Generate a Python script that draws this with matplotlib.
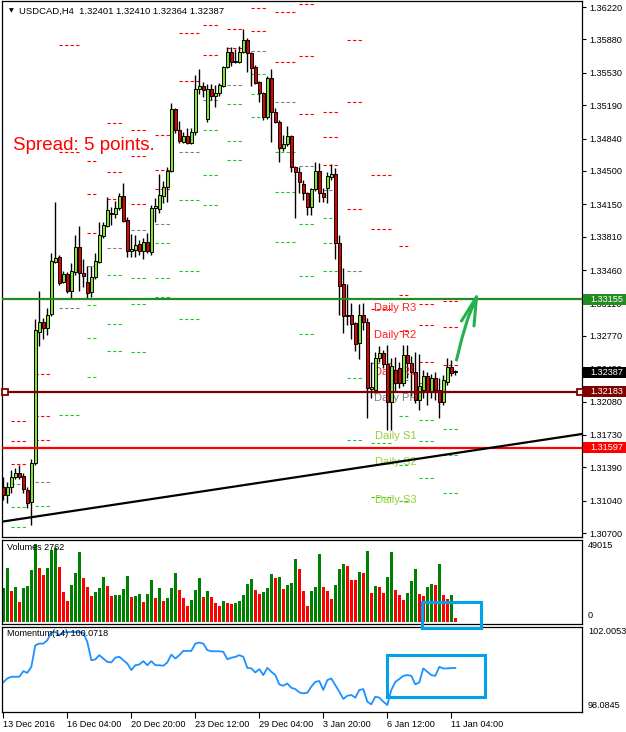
import matplotlib
matplotlib.use("Agg")
import matplotlib.pyplot as plt
from matplotlib.patches import Rectangle
from matplotlib.lines import Line2D
import numpy as np

plt.rcParams['font.family'] = ['Liberation Sans', 'DejaVu Sans']

# ---------------- data ----------------
opens = [1.31183, 1.31099, 1.31183, 1.31288, 1.31330, 1.31298, 1.31151, 1.31025, 1.31435, 1.32809,
         1.32914, 1.32851, 1.32998, 1.33544, 1.33596, 1.33334, 1.33418, 1.33240, 1.33439, 1.33701,
         1.33428, 1.33334, 1.33229, 1.33386, 1.33544, 1.33817, 1.33922, 1.34058, 1.34047, 1.34110,
         1.34236, 1.33985, 1.33659, 1.33670, 1.33733, 1.33659, 1.33754, 1.33649, 1.34110, 1.34100,
         1.34236, 1.34331, 1.34499, 1.35149, 1.34929, 1.34803, 1.34866, 1.34793, 1.34908, 1.35359,
         1.35391, 1.35044, 1.35359, 1.35286, 1.35317, 1.35391, 1.35590, 1.35747, 1.35642, 1.35642,
         1.35747, 1.35873, 1.35737, 1.35590, 1.35433, 1.35317, 1.35065, 1.35475, 1.35118, 1.35013,
         1.34740, 1.34782, 1.34866, 1.34541, 1.34488, 1.34362, 1.34268, 1.34121, 1.34310, 1.34499,
         1.34268, 1.34320, 1.34436, 1.34467, 1.33743, 1.33313, 1.32977, 1.32988, 1.32904, 1.32694,
         1.32988, 1.32914, 1.32211, 1.32200, 1.32536, 1.32589, 1.32473, 1.32075, 1.32410, 1.32431,
         1.32274, 1.32568, 1.32484, 1.32389, 1.32096, 1.32200, 1.32347, 1.32179, 1.32326, 1.32200,
         1.32075, 1.32284, 1.32442, 1.32401]
highs = [1.31288, 1.31235, 1.31361, 1.31382, 1.31414, 1.31330, 1.31183, 1.31477, 1.32946, 1.33240,
         1.32956, 1.33061, 1.33638, 1.34173, 1.33617, 1.33449, 1.33439, 1.33533, 1.33827, 1.33922,
         1.33575, 1.33502, 1.33502, 1.33638, 1.33964, 1.33964, 1.34226, 1.34121, 1.34184, 1.34268,
         1.34373, 1.34016, 1.33838, 1.33827, 1.33775, 1.33796, 1.33848, 1.34142, 1.34215, 1.34467,
         1.34394, 1.34541, 1.35212, 1.35160, 1.35023, 1.34908, 1.34950, 1.34950, 1.35506, 1.35569,
         1.35433, 1.35412, 1.35412, 1.35401, 1.35422, 1.35600, 1.35800, 1.35800, 1.35779, 1.35810,
         1.35989, 1.35894, 1.35747, 1.35611, 1.35443, 1.35328, 1.35496, 1.35569, 1.35160, 1.35034,
         1.34876, 1.34971, 1.34876, 1.34551, 1.34541, 1.34404, 1.34278, 1.34320, 1.34593, 1.34583,
         1.34320, 1.34488, 1.34572, 1.34530, 1.33827, 1.33481, 1.33313, 1.33114, 1.32914, 1.33103,
         1.33114, 1.32956, 1.32494, 1.32599, 1.32662, 1.32620, 1.32673, 1.32536, 1.32547, 1.32494,
         1.32673, 1.32673, 1.32557, 1.32599, 1.32578, 1.32410, 1.32389, 1.32368, 1.32389, 1.32326,
         1.32358, 1.32536, 1.32515, 1.32410]
lows = [1.31046, 1.31015, 1.31120, 1.31267, 1.31267, 1.31120, 1.30962, 1.30784, 1.31414, 1.32662,
        1.32736, 1.32778, 1.32977, 1.33533, 1.33302, 1.33323, 1.33219, 1.33166, 1.33407, 1.33240,
        1.33282, 1.33166, 1.33177, 1.33365, 1.33533, 1.33796, 1.33911, 1.33932, 1.34005, 1.34089,
        1.33964, 1.33596, 1.33596, 1.33596, 1.33617, 1.33575, 1.33638, 1.33617, 1.33964, 1.34058,
        1.34163, 1.34173, 1.34488, 1.34897, 1.34793, 1.34793, 1.34783, 1.34782, 1.34876, 1.35307,
        1.35275, 1.35013, 1.35244, 1.35170, 1.35286, 1.35380, 1.35579, 1.35600, 1.35632, 1.35632,
        1.35737, 1.35538, 1.35391, 1.35412, 1.35223, 1.35034, 1.35044, 1.34803, 1.35002, 1.34593,
        1.34708, 1.34761, 1.34488, 1.34005, 1.34268, 1.34194, 1.34037, 1.34037, 1.34289, 1.34173,
        1.34173, 1.34163, 1.34404, 1.33575, 1.32988, 1.32799, 1.32883, 1.32736, 1.32610, 1.32526,
        1.32830, 1.31907, 1.32116, 1.32158, 1.32494, 1.32431, 1.31781, 1.31781, 1.32179, 1.32221,
        1.32242, 1.32326, 1.32137, 1.32064, 1.31991, 1.32116, 1.32043, 1.32116, 1.32096, 1.31907,
        1.32043, 1.32253, 1.32347, 1.32364]
closes = [1.31099, 1.31183, 1.31288, 1.31330, 1.31288, 1.31162, 1.31015, 1.31435, 1.32830, 1.32914,
          1.32851, 1.32988, 1.33554, 1.33586, 1.33323, 1.33418, 1.33240, 1.33449, 1.33701, 1.33428,
          1.33397, 1.33219, 1.33386, 1.33554, 1.33827, 1.33932, 1.34089, 1.34047, 1.34110, 1.34236,
          1.33974, 1.33659, 1.33680, 1.33722, 1.33659, 1.33754, 1.33659, 1.34110, 1.34131, 1.34247,
          1.34331, 1.34499, 1.35149, 1.34929, 1.34814, 1.34866, 1.34793, 1.34908, 1.35359, 1.35391,
          1.35349, 1.35359, 1.35286, 1.35317, 1.35401, 1.35590, 1.35747, 1.35642, 1.35653, 1.35747,
          1.35873, 1.35737, 1.35579, 1.35422, 1.35317, 1.35065, 1.35475, 1.35118, 1.35013, 1.34740,
          1.34782, 1.34866, 1.34541, 1.34488, 1.34383, 1.34268, 1.34121, 1.34310, 1.34499, 1.34268,
          1.34226, 1.34446, 1.34467, 1.33743, 1.33292, 1.32977, 1.32988, 1.32893, 1.32683, 1.32988,
          1.32914, 1.32222, 1.32232, 1.32536, 1.32589, 1.32473, 1.32075, 1.32452, 1.32274, 1.32274,
          1.32568, 1.32484, 1.32389, 1.32096, 1.32242, 1.32347, 1.32179, 1.32326, 1.32200, 1.32075,
          1.32305, 1.32442, 1.32379, 1.32387]

volumes = [21461, 34085, 19357, 22092, 12624, 21461, 22513, 32822, 49015, 33664,
           29456, 34085, 45236, 46288, 34716, 18936, 13255, 23144, 30929, 44184,
           27773, 22092, 16411, 18936, 21461, 28404, 22513, 16201, 16832, 17253,
           21040, 29035, 15780, 16201, 17463, 12624, 17463, 26510, 15149, 21461,
           13045, 15359, 21461, 30508, 20409, 15359, 10099, 14097, 19988, 27352,
           15780, 19567, 15780, 11993, 9889, 13255, 11993, 11362, 11993, 13255,
           16832, 23775, 26721, 20409, 17463, 18936, 21461, 30087, 27352, 27983,
           20619, 23144, 24196, 39345, 33033, 19357, 10099, 19357, 22092, 42711,
           22092, 19357, 14728, 23144, 33033, 36399, 35137, 26300, 26100, 31560,
           30508, 44815, 18515, 22513, 22300, 18515, 28404, 44184, 19988, 16832,
           13676, 18305, 25669, 33454, 17884, 16201, 22092, 23775, 23144, 36399,
           16832, 14307, 16832, 2762]

momentum = [99.30, 99.51, 99.60, 99.60, 99.60, 99.90, 99.81, 100.13, 101.29, 101.38,
            101.38, 101.56, 102.00, 102.00, 101.83, 102.00, 102.00, 102.0053, 102.00, 102.00,
            101.96, 101.47, 100.49, 100.53, 100.76, 100.58, 100.40, 100.37, 100.63, 100.67,
            100.49, 100.31, 99.96, 100.22, 100.26, 100.44, 100.22, 100.44, 100.22, 100.22,
            100.19, 100.37, 100.79, 100.58, 100.76, 100.99, 100.99, 100.99, 101.38, 101.44,
            101.38, 101.03, 100.97, 100.97, 100.97, 100.94, 100.54, 100.62, 100.67, 100.76,
            100.67, 100.08, 100.05, 99.83, 100.01, 99.69, 100.08, 99.87, 99.69, 99.19,
            99.12, 99.24, 99.01, 98.94, 98.76, 98.71, 98.74, 99.07, 99.33, 99.37,
            98.89, 99.42, 99.51, 99.15, 98.80, 98.41, 98.58, 98.62, 98.48, 98.89,
            98.94, 98.26, 98.12, 98.53, 98.48, 98.26, 98.0845, 98.89, 99.33, 99.48,
            99.65, 99.69, 99.65, 99.19, 99.30, 100.05, 99.87, 99.69, 99.65, 100.13,
            100.05, 100.05, 100.07, 100.0718]

# daily pivot sessions (first bar of each broker day), weekday of each, previous day of the first
day_start_bars = [2, 8, 14, 20, 26, 32, 38, 44, 50, 56, 62, 68, 74, 80, 86, 92, 98, 104, 110]
day_weekdays = ['Wed', 'Thu', 'Fri', 'Mon', 'Tue', 'Wed', 'Thu', 'Fri', 'Tue', 'Wed', 'Thu', 'Fri',
                'Tue', 'Wed', 'Thu', 'Fri', 'Mon', 'Tue', 'Wed']
first_prev_hlc = (1.31456, 1.31004, 1.31183)

price_ticks = [1.36220, 1.35880, 1.35530, 1.35190, 1.34840, 1.34500, 1.34150, 1.33810, 1.33460,
               1.33110, 1.32770, 1.32430, 1.32080, 1.31730, 1.31390, 1.31040, 1.30700]
time_tick_bars = [0, 16, 32, 48, 64, 80, 96, 112]
time_tick_labels = ['13 Dec 2016', '16 Dec 04:00', '20 Dec 20:00', '23 Dec 12:00',
                    '29 Dec 04:00', '3 Jan 20:00', '6 Jan 12:00', '11 Jan 04:00']

level_green = 1.33155
level_maroon = 1.32183
level_red = 1.31597
last_price = 1.32387
trend_bars = [-0.3, 144.7]
trend_prices = [1.3082, 1.3174]

title_text = 'USDCAD,H4  1.32401 1.32410 1.32364 1.32387'
vol_label = 'Volumes 2762'
mom_label = 'Momentum(14) 100.0718'

# ---------------- figure ----------------
W, H = 626, 732
fig = plt.figure(figsize=(W / 100, H / 100), dpi=100)
fig.patch.set_facecolor('white')


def px_axes(x0, y0, x1, y1):
    return fig.add_axes([x0 / W, 1 - y1 / H, (x1 - x0) / W, (y1 - y0) / H])


def fpt(x, y):
    return (x / W, 1 - y / H)


ax = px_axes(2, 1, 582, 537)
axv = px_axes(2, 540, 582, 623.5)
axm = px_axes(2, 626.5, 582, 711.5)

o = np.array(opens); h = np.array(highs); l = np.array(lows); c = np.array(closes)
n = len(o)
x = np.arange(n)
XL = (-0.33, 144.67)
FS = 6.6

for a in (ax, axv, axm):
    a.set_xlim(*XL)
    a.set_facecolor('white')
    for s in a.spines.values():
        s.set_color('black')
        s.set_linewidth(0.9)
    a.tick_params(axis='x', which='both', bottom=False, labelbottom=False)
    a.yaxis.tick_right()
    a.tick_params(axis='y', direction='out', length=3, width=0.8, pad=2,
                  labelsize=FS, colors='black')

# ---- main price panel ----
ax.set_ylim(1.30659, 1.36283)
ax.set_yticks(price_ticks)
ax.set_yticklabels([f'{v:.5f}' for v in price_ticks])

bull = c >= o
body_lo = np.minimum(o, c)
body_h = np.maximum(np.abs(c - o), 0.00003)
ax.vlines(x, l, h, color='black', lw=1.0, zorder=3)
ax.bar(x[bull], body_h[bull], width=0.72, bottom=body_lo[bull], color='#7FE62A',
       edgecolor='black', linewidth=0.7, zorder=4)
ax.bar(x[~bull], body_h[~bull], width=0.72, bottom=body_lo[~bull], color='#E00000',
       edgecolor='black', linewidth=0.7, zorder=4)

# daily pivots
piv_colors = {'R': '#FF0000', 'P': '#808080', 'S': '#22CC22'}
seg_span = {'Mon': (1.0, 3.5), 'Fri': (-0.1, 4.9)}
last_levels = None
for k, s in enumerate(day_start_bars):
    if k == 0:
        Hd, Ld, Cd = first_prev_hlc
    else:
        ps = day_start_bars[k - 1]
        Hd, Ld, Cd = h[ps:s].max(), l[ps:s].min(), c[s - 1]
    pp = (Hd + Ld + Cd) / 3
    lv = {'R3': Hd + 2 * (pp - Ld), 'R2': pp + (Hd - Ld), 'R1': 2 * pp - Ld, 'PP': pp,
          'S1': 2 * pp - Hd, 'S2': pp - (Hd - Ld), 'S3': Ld - 2 * (Hd - pp)}
    a0, a1 = seg_span.get(day_weekdays[k], (-0.1, 3.7))
    for name, val in lv.items():
        ax.plot([s + a0, s + a1], [val, val], color=piv_colors[name[0]], lw=0.8,
                linestyle=(0, (3, 2)), zorder=2)
    last_levels = lv

label_bar = 98
for name, txt, col in [('R3', 'Daily R3', '#FF2020'), ('R2', 'Daily R2', '#FF2020'),
                       ('R1', 'Daily R1', '#FF2020'), ('PP', 'Daily PP', '#7F7F7F'),
                       ('S1', 'Daily S1', '#9ACD32'), ('S2', 'Daily S2', '#9ACD32'),
                       ('S3', 'Daily S3', '#9ACD32')]:
    ax.annotate(txt, xy=(label_bar, last_levels[name]), xytext=(0, -1.5),
                textcoords='offset points', ha='center', va='top', fontsize=8,
                color=col, zorder=3)

# horizontal levels and trendline
ax.axhline(level_green, color='#228B22', lw=1.6, zorder=5)
ax.axhline(level_maroon, color='#800000', lw=1.6, zorder=5)
ax.axhline(level_red, color='#FF0000', lw=1.6, zorder=5)
ax.plot([XL[0] + 0.7, XL[1] - 0.5], [level_maroon, level_maroon], linestyle='none',
        marker='s', ms=4, mfc='white', mec='#800000', mew=1.3, zorder=6, clip_on=False)
ax.plot(trend_bars, trend_prices, color='black', lw=1.6, zorder=5)

# right-side price boxes
ytr = ax.get_yaxis_transform()
half = 5.6 / 9530
for val, fc in [(level_green, '#228B22'), (last_price, 'black'),
                (level_maroon, '#800000'), (level_red, '#FF0000')]:
    ax.add_patch(Rectangle((1.0 + 1 / 580, val - half), 44 / 580, 2 * half,
                           transform=ytr, facecolor=fc, edgecolor='none',
                           clip_on=False, zorder=8))
    ax.text(1.0 + 8 / 580, val, f'{val:.5f}', transform=ytr, ha='left', va='center',
            fontsize=FS, color='white', zorder=9, clip_on=False)

ax.text(7 / 580, 1 - 10 / 536, '\u25BC', transform=ax.transAxes, fontsize=4.5,
        ha='left', va='center', color='black', family=['DejaVu Sans'])
ax.text(17 / 580, 1 - 10 / 536, title_text, transform=ax.transAxes, fontsize=6.8,
        ha='left', va='center', color='black')
ax.text(11 / 580, 1 - 144 / 536, 'Spread: 5 points.', transform=ax.transAxes,
        fontsize=13.5, ha='left', va='center', color='#FF0000')

# ---- volume panel ----
vol = np.array(volumes)
vcol = ['#008000'] + ['#008000' if vol[i] > vol[i - 1] else '#FF0000' for i in range(1, n)]
axv.bar(x, vol, width=0.75, color=vcol, linewidth=0)
axv.set_ylim(-943, 51529)
axv.set_yticks([])
axv.text(1.0 + 6 / 580, 1 - 6 / 83.5, f'{max(volumes)}', transform=axv.transAxes,
         fontsize=FS, ha='left', va='center')
axv.text(1.0 + 6 / 580, 1 - 76 / 83.5, '0', transform=axv.transAxes,
         fontsize=FS, ha='left', va='center')
axv.text(5 / 580, 1 - 8 / 83.5, vol_label, transform=axv.transAxes, fontsize=6.5,
         ha='left', va='center')

# ---- momentum panel ----
mom = np.array(momentum)
axm.plot(x, mom, color='#1E90FF', lw=1.3)
axm.set_ylim(97.735, 102.30)
axm.set_yticks([])
axm.text(1.0 + 6 / 580, 1 - 5.5 / 85, f'{mom.max():.4f}', transform=axm.transAxes,
         fontsize=FS, ha='left', va='center')
axm.text(1.0 + 6 / 580, 1 - 78.5 / 85, f'{mom.min():.4f}', transform=axm.transAxes,
         fontsize=FS, ha='left', va='center')
axm.text(5 / 580, 1 - 7 / 85, mom_label, transform=axm.transAxes, fontsize=6.5,
         ha='left', va='center')

axm.tick_params(axis='x', which='both', bottom=True, labelbottom=True, direction='out',
                length=4, width=0.8, pad=2, labelsize=FS)
axm.set_xticks(time_tick_bars)
axm.set_xticklabels(time_tick_labels)
for t in axm.get_xticklabels():
    t.set_horizontalalignment('left')

# ---- annotations drawn on top (rectangles and arrow) ----
blue = '#00A2E8'
for (x0, y0, x1, y1) in [(422, 602, 481, 628), (387, 655, 485, 697)]:
    fig.add_artist(Rectangle(fpt(x0, y1), (x1 - x0) / W, (y1 - y0) / H,
                             transform=fig.transFigure, fill=False, edgecolor=blue,
                             linewidth=2.2, zorder=20))

green_arrow = '#22B14C'
shaft = [(456.5, 360), (462, 338), (468, 318), (476.5, 297)]
fig.add_artist(Line2D([fpt(*p)[0] for p in shaft], [fpt(*p)[1] for p in shaft],
                      transform=fig.transFigure, color=green_arrow, lw=2.2,
                      solid_capstyle='round', zorder=20))
for arm in [(461.5, 321), (474, 326)]:
    fig.add_artist(Line2D([fpt(476.5, 297)[0], fpt(*arm)[0]],
                          [fpt(476.5, 297)[1], fpt(*arm)[1]],
                          transform=fig.transFigure, color=green_arrow, lw=2.2,
                          solid_capstyle='round', zorder=20))

fig.savefig('out.png', dpi=100, facecolor='white')
